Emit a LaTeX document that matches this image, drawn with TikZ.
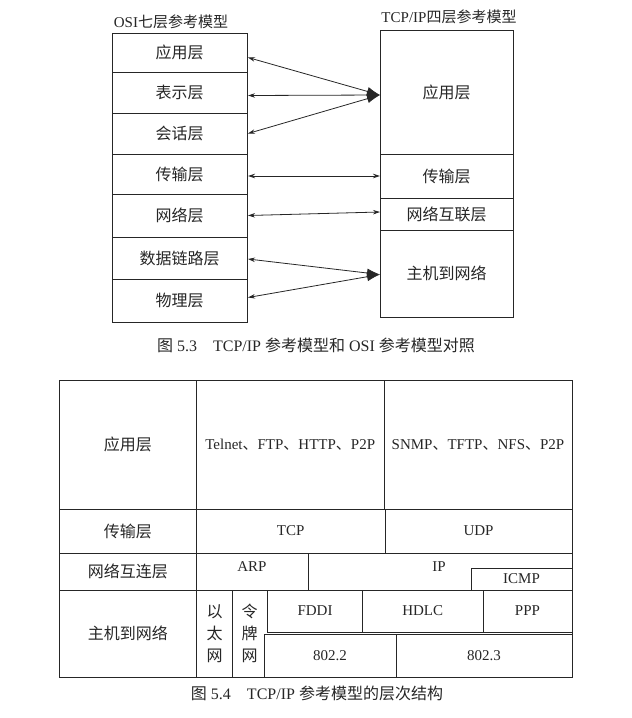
\documentclass[tikz,border=0pt]{standalone}
\usepackage{fontspec}
\setmainfont{Liberation Serif}
\newfontfamily\cjk{Noto Sans CJK SC}
\usetikzlibrary{arrows.meta}

\definecolor{ink}{HTML}{262626}

% boxed cell given by its corners: name, x1, y1, x2, y2, text
\newcommand\cellnode[6]{%
  \node[cell, minimum width={#4-#2}, minimum height={#5-#3}]
    (#1) at ({(#2+#4)/2},{(#3+#5)/2}) {#6};}

\begin{document}
\begin{tikzpicture}[x=1pt, y=-1pt,
  cell/.style={draw=ink, line width=0.9pt, inner sep=0pt, outer sep=0pt,
    text=ink, align=center, font=\fontsize{16}{22}\selectfont\cjk},
  lbl/.style={inner sep=0pt, text=ink, align=center,
    font=\fontsize{16}{22}\selectfont\cjk},
  head/.style={inner sep=0pt, text=ink, font=\fontsize{15}{18}\selectfont},
  caption/.style={inner sep=0pt, text=ink, font=\fontsize{16}{19}\selectfont},
  latin/.style={font=\fontsize{15}{18}\selectfont},
  link/.style={draw=ink, line width=0.8pt,
    {Stealth[length=7pt,width=4.5pt]}-{Stealth[length=7pt,width=4.5pt]}},
  merge/.style={draw=ink, line width=0.8pt,
    {Stealth[length=7pt,width=4.5pt]}-{Latex[length=13pt,width=9pt]}}]

\useasboundingbox (0,0) rectangle (632,718);

% ---------- OSI seven layers ----------
\node[head] (osihead) at (171,22) {OSI{\cjk 七层参考模型}};
\cellnode{osi1}{112}{33}{247}{72}{应用层}
\cellnode{osi2}{112}{72}{247}{113}{表示层}
\cellnode{osi3}{112}{113}{247}{154}{会话层}
\cellnode{osi4}{112}{154}{247}{194}{传输层}
\cellnode{osi5}{112}{194}{247}{237}{网络层}
\cellnode{osi6}{112}{237}{247}{279}{数据链路层}
\cellnode{osi7}{112}{279}{247}{322}{物理层}

% ---------- TCP/IP four layers ----------
\node[head] (tcphead) at (449,17) {TCP/IP{\cjk 四层参考模型}};
\cellnode{tcp1}{380}{30}{513}{154}{应用层}
\cellnode{tcp2}{380}{154}{513}{198}{传输层}
\cellnode{tcp3}{380}{198}{513}{230}{网络互联层}
\cellnode{tcp4}{380}{230}{513}{317}{主机到网络}

% ---------- correspondence arrows ----------
\draw[merge] ([xshift=1pt,yshift=-5pt]osi1.east) -- ([yshift=-3pt]tcp1.west);
\draw[merge] ([xshift=1pt,yshift=-3pt]osi2.east) -- ([yshift=-3pt]tcp1.west);
\draw[merge] ([xshift=1pt,yshift=0pt]osi3.east)  -- ([yshift=-3pt]tcp1.west);
\draw[link]  ([xshift=1pt,yshift=-2pt]osi4.east) -- (tcp2.west);
\draw[link]  ([xshift=1pt]osi5.east) -- ([yshift=2pt]tcp3.west);
\draw[merge] ([xshift=1pt,yshift=-1pt]osi6.east) -- ([yshift=-1pt]tcp4.west);
\draw[merge] ([xshift=1pt,yshift=3pt]osi7.east)  -- ([yshift=-1pt]tcp4.west);

\node[caption] (cap1) at (316,345)
  {{\cjk 图} 5.3\quad TCP/IP {\cjk 参考模型和} OSI {\cjk 参考模型对照}};

% ---------- TCP/IP layered structure ----------
% application layer
\cellnode{app}{59}{380}{196.5}{509}{应用层}
\cellnode{appa}{196.5}{380}{384}{509}%
  {\fontsize{15}{18}\rmfamily Telnet{\cjk 、}FTP{\cjk 、}HTTP{\cjk 、}P2P}
\cellnode{appb}{384}{380}{572}{509}%
  {\fontsize{15}{18}\rmfamily SNMP{\cjk 、}TFTP{\cjk 、}NFS{\cjk 、}P2P}

% transport layer
\cellnode{trn}{59}{509}{196.5}{553}{传输层}
\cellnode{tcp}{196.5}{509}{385}{553}{\fontsize{15}{18}\rmfamily TCP}
\cellnode{udp}{385}{509}{572}{553}{\fontsize{15}{18}\rmfamily UDP}

% internet layer
\cellnode{net}{59}{553}{196.5}{590}{网络互连层}
\cellnode{arpcell}{196.5}{553}{308}{590}{}
\cellnode{ipcell}{308}{553}{572}{590}{}
\node[lbl, latin] (arp) at (252,567) {ARP};
\node[lbl, latin] (ip) at (439,567) {IP};
\cellnode{icmp}{471}{568}{572}{590}{\fontsize{15}{18}\rmfamily ICMP}

% host-to-network layer
\cellnode{host}{59}{590}{196.5}{677}{主机到网络}
\cellnode{eth}{196.5}{590}{232.5}{677}{以\\太\\网}
\cellnode{hostrest}{232.5}{590}{572}{677}{}
\node[lbl] (token) at (249.5,633.5) {令\\牌\\网};
\cellnode{fddi}{267.5}{590}{362.5}{632}{\fontsize{15}{18}\rmfamily FDDI}
\cellnode{hdlc}{362.5}{590}{483}{632}{\fontsize{15}{18}\rmfamily HDLC}
\cellnode{ppp}{483}{590}{572}{632}{\fontsize{15}{18}\rmfamily PPP}
\cellnode{ieeea}{264}{634}{396}{677}{\fontsize{15}{18}\rmfamily 802.2}
\cellnode{ieeeb}{396}{634}{572}{677}{\fontsize{15}{18}\rmfamily 802.3}

\node[caption] (cap2) at (317,693)
  {{\cjk 图} 5.4\quad TCP/IP {\cjk 参考模型的层次结构}};

\end{tikzpicture}
\end{document}
